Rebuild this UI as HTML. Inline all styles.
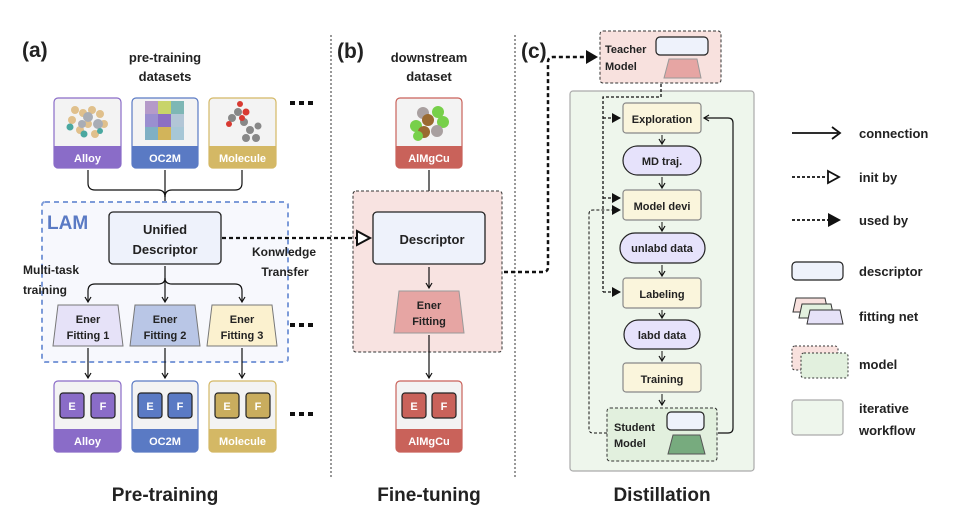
<!DOCTYPE html>
<html><head><meta charset="utf-8"><style>
html,body{margin:0;padding:0;background:#fff}
svg{display:block}
text{font-family:"Liberation Sans","DejaVu Sans",sans-serif;font-weight:bold;fill:#222}
</style></head><body>
<svg width="954" height="516" viewBox="0 0 954 516" xmlns="http://www.w3.org/2000/svg">
<defs>
<marker id="ah" markerWidth="8" markerHeight="8" refX="6" refY="4" orient="auto" markerUnits="userSpaceOnUse"><path d="M1,1 L6,4 L1,7" fill="none" stroke="#111" stroke-width="1.2"/></marker>
<marker id="fa" markerWidth="10" markerHeight="10" refX="8" refY="5" orient="auto" markerUnits="userSpaceOnUse"><path d="M0,0 L9,5 L0,10 Z" fill="#111"/></marker>
</defs>

<!-- separators -->
<line x1="331" y1="35" x2="331" y2="478" stroke="#333" stroke-width="1" stroke-dasharray="2,2"/>
<line x1="515" y1="35" x2="515" y2="478" stroke="#333" stroke-width="1" stroke-dasharray="2,2"/>

<!-- (a) -->
<text x="22" y="57" font-size="21">(a)</text>
<text x="165" y="62" font-size="13" text-anchor="middle">pre-training</text>
<text x="165" y="81" font-size="13" text-anchor="middle">datasets</text>

<!-- dataset cards -->
<g>
<rect x="54" y="98" width="67" height="70" rx="4" fill="#f3f3f3" stroke="#8a6cc8" stroke-width="1.2"/>
<path d="M54,146 H121 V164 a4,4 0 0 1 -4,4 H58 a4,4 0 0 1 -4,-4 Z" fill="#8a6cc8"/>
<text x="87.5" y="162" font-size="11" style="fill:#fff" text-anchor="middle">Alloy</text>
<g fill="#e0c08c"><circle cx="75" cy="110" r="4"/><circle cx="83" cy="113" r="4"/><circle cx="92" cy="110" r="4"/><circle cx="100" cy="114" r="4"/><circle cx="72" cy="120" r="4"/><circle cx="88" cy="124" r="4"/><circle cx="104" cy="124" r="4"/><circle cx="80" cy="130" r="4"/><circle cx="95" cy="134" r="4"/></g>
<g fill="#a9adb5"><circle cx="88" cy="117" r="5"/><circle cx="98" cy="124" r="5"/><circle cx="82" cy="124" r="4"/></g>
<g fill="#4aa8a0"><circle cx="70" cy="127" r="3.5"/><circle cx="84" cy="134" r="3.5"/><circle cx="100" cy="131" r="3"/></g>

<rect x="132" y="98" width="66" height="70" rx="4" fill="#f3f3f3" stroke="#5a7ac4" stroke-width="1.2"/>
<path d="M132,146 H198 V164 a4,4 0 0 1 -4,4 H136 a4,4 0 0 1 -4,-4 Z" fill="#5a7ac4"/>
<text x="165" y="162" font-size="11" style="fill:#fff" text-anchor="middle">OC2M</text>
<rect x="145" y="101" width="13" height="13" fill="#b59ac9"/><rect x="158" y="101" width="13" height="13" fill="#c8d46a"/><rect x="171" y="101" width="13" height="13" fill="#7eb7b5"/>
<rect x="145" y="114" width="13" height="13" fill="#9a8fd0"/><rect x="158" y="114" width="13" height="13" fill="#8c6fc4"/><rect x="171" y="114" width="13" height="13" fill="#b2c6d6"/>
<rect x="145" y="127" width="13" height="13" fill="#7fb0c4"/><rect x="158" y="127" width="13" height="13" fill="#d2b45a"/><rect x="171" y="127" width="13" height="13" fill="#a7c7d6"/>

<rect x="209" y="98" width="67" height="70" rx="4" fill="#f3f3f3" stroke="#d4b865" stroke-width="1.2"/>
<path d="M209,146 H276 V164 a4,4 0 0 1 -4,4 H213 a4,4 0 0 1 -4,-4 Z" fill="#d4b865"/>
<text x="242.5" y="162" font-size="11" style="fill:#fff" text-anchor="middle">Molecule</text>
<g fill="#888"><circle cx="238" cy="112" r="4"/><circle cx="232" cy="118" r="4"/><circle cx="244" cy="122" r="4"/><circle cx="250" cy="130" r="4"/><circle cx="258" cy="126" r="3.5"/><circle cx="246" cy="138" r="4"/><circle cx="256" cy="138" r="4"/></g>
<g fill="#d83a32"><circle cx="240" cy="104" r="3"/><circle cx="246" cy="112" r="3.5"/><circle cx="229" cy="124" r="3"/><circle cx="242" cy="118" r="3"/></g>
</g>
<g fill="#111"><rect x="290" y="101" width="5" height="4"/><rect x="299" y="101" width="5" height="4"/><rect x="308" y="101" width="5" height="4"/>
<rect x="290" y="323" width="5" height="4"/><rect x="299" y="323" width="5" height="4"/><rect x="308" y="323" width="5" height="4"/>
<rect x="290" y="412" width="5" height="4"/><rect x="299" y="412" width="5" height="4"/><rect x="308" y="412" width="5" height="4"/></g>

<!-- merge connectors -->
<path d="M88,170 V183 Q88,190 95,190 H158 Q165,190 165,197" fill="none" stroke="#111" stroke-width="1.2"/>
<path d="M242,170 V183 Q242,190 235,190 H172 Q165,190 165,197" fill="none" stroke="#111" stroke-width="1.2"/>
<line x1="165" y1="170" x2="165" y2="209" stroke="#111" stroke-width="1.2" marker-end="url(#ah)"/>

<!-- LAM box -->
<rect x="42" y="202" width="246" height="160" rx="3" fill="#f7f8fd" stroke="#7d9bd9" stroke-width="2" stroke-dasharray="5,4"/>
<text x="47" y="229" font-size="19" style="fill:#5a7ac4">LAM</text>
<rect x="109" y="212" width="112" height="52" rx="4" fill="#eef2fb" stroke="#222" stroke-width="1.3"/>
<text x="165" y="234" font-size="13" text-anchor="middle">Unified</text>
<text x="165" y="254" font-size="13" text-anchor="middle">Descriptor</text>
<text x="23" y="274" font-size="12">Multi-task</text>
<text x="23" y="294" font-size="12">training</text>
<text x="284" y="256" font-size="12" text-anchor="middle">Konwledge</text>
<text x="285" y="276" font-size="12" text-anchor="middle">Transfer</text>

<!-- branch -->
<line x1="165" y1="266" x2="165" y2="302" stroke="#111" stroke-width="1.2" marker-end="url(#ah)"/>
<path d="M165,278 Q165,284 158,284 H95 Q88,284 88,291 V302" fill="none" stroke="#111" stroke-width="1.2" marker-end="url(#ah)"/>
<path d="M165,278 Q165,284 172,284 H235 Q242,284 242,291 V302" fill="none" stroke="#111" stroke-width="1.2" marker-end="url(#ah)"/>

<!-- fittings -->
<path d="M58,305 H118 L123,346 H53 Z" fill="#e6e2f8" stroke="#777" stroke-width="1"/>
<text x="88" y="323" font-size="11" text-anchor="middle">Ener</text>
<text x="88" y="339" font-size="11" text-anchor="middle">Fitting 1</text>
<path d="M135,305 H195 L200,346 H130 Z" fill="#b9c6e6" stroke="#777" stroke-width="1"/>
<text x="165" y="323" font-size="11" text-anchor="middle">Ener</text>
<text x="165" y="339" font-size="11" text-anchor="middle">Fitting 2</text>
<path d="M212,305 H272 L277,346 H207 Z" fill="#fbf1cf" stroke="#777" stroke-width="1"/>
<text x="242" y="323" font-size="11" text-anchor="middle">Ener</text>
<text x="242" y="339" font-size="11" text-anchor="middle">Fitting 3</text>

<g stroke="#111" stroke-width="1.2" marker-end="url(#ah)">
<line x1="88" y1="348" x2="88" y2="378"/><line x1="165" y1="348" x2="165" y2="378"/><line x1="242" y1="348" x2="242" y2="378"/></g>

<!-- output cards -->
<g>
<rect x="54" y="381" width="67" height="71" rx="4" fill="#f3f3f3" stroke="#8a6cc8" stroke-width="1.2"/>
<path d="M54,429 H121 V448 a4,4 0 0 1 -4,4 H58 a4,4 0 0 1 -4,-4 Z" fill="#8a6cc8"/>
<text x="87.5" y="445" font-size="11" style="fill:#fff" text-anchor="middle">Alloy</text>
<rect x="60" y="393" width="24" height="25" rx="3" fill="#8a6cc8" stroke="#222" stroke-width="1.2"/>
<rect x="91" y="393" width="24" height="25" rx="3" fill="#8a6cc8" stroke="#222" stroke-width="1.2"/>
<text x="72" y="410" font-size="11" style="fill:#fff" text-anchor="middle">E</text><text x="103" y="410" font-size="11" style="fill:#fff" text-anchor="middle">F</text>

<rect x="132" y="381" width="66" height="71" rx="4" fill="#f3f3f3" stroke="#5a7ac4" stroke-width="1.2"/>
<path d="M132,429 H198 V448 a4,4 0 0 1 -4,4 H136 a4,4 0 0 1 -4,-4 Z" fill="#5a7ac4"/>
<text x="165" y="445" font-size="11" style="fill:#fff" text-anchor="middle">OC2M</text>
<rect x="138" y="393" width="24" height="25" rx="3" fill="#5a7ac4" stroke="#222" stroke-width="1.2"/>
<rect x="168" y="393" width="24" height="25" rx="3" fill="#5a7ac4" stroke="#222" stroke-width="1.2"/>
<text x="150" y="410" font-size="11" style="fill:#fff" text-anchor="middle">E</text><text x="180" y="410" font-size="11" style="fill:#fff" text-anchor="middle">F</text>

<rect x="209" y="381" width="67" height="71" rx="4" fill="#f3f3f3" stroke="#d4b865" stroke-width="1.2"/>
<path d="M209,429 H276 V448 a4,4 0 0 1 -4,4 H213 a4,4 0 0 1 -4,-4 Z" fill="#d4b865"/>
<text x="242.5" y="445" font-size="11" style="fill:#fff" text-anchor="middle">Molecule</text>
<rect x="215" y="393" width="24" height="25" rx="3" fill="#c9ad5e" stroke="#222" stroke-width="1.2"/>
<rect x="246" y="393" width="24" height="25" rx="3" fill="#c9ad5e" stroke="#222" stroke-width="1.2"/>
<text x="227" y="410" font-size="11" style="fill:#fff" text-anchor="middle">E</text><text x="258" y="410" font-size="11" style="fill:#fff" text-anchor="middle">F</text>
</g>
<text x="165" y="501" font-size="19" text-anchor="middle">Pre-training</text>

<!-- (b) -->
<text x="337" y="58" font-size="21">(b)</text>
<text x="429" y="62" font-size="13" text-anchor="middle">downstream</text>
<text x="429" y="81" font-size="13" text-anchor="middle">dataset</text>
<rect x="396" y="98" width="66" height="70" rx="4" fill="#f3f3f3" stroke="#c9625a" stroke-width="1.2"/>
<path d="M396,146 H462 V164 a4,4 0 0 1 -4,4 H400 a4,4 0 0 1 -4,-4 Z" fill="#c9625a"/>
<text x="429" y="162" font-size="11" style="fill:#fff" text-anchor="middle">AlMgCu</text>
<g><circle cx="423" cy="113" r="6" fill="#a9a0a0"/><circle cx="438" cy="112" r="6" fill="#77d04a"/><circle cx="443" cy="122" r="6" fill="#77d04a"/><circle cx="416" cy="126" r="6" fill="#77d04a"/><circle cx="437" cy="131" r="6" fill="#a9a0a0"/><circle cx="428" cy="120" r="6" fill="#9a6a30"/><circle cx="424" cy="132" r="6" fill="#9a6a30"/><circle cx="418" cy="136" r="5" fill="#77d04a"/></g>
<line x1="429" y1="170" x2="429" y2="209" stroke="#111" stroke-width="1.2" marker-end="url(#ah)"/>
<rect x="353" y="191" width="149" height="161" rx="3" fill="#f8e3e1" stroke="#333" stroke-width="1" stroke-dasharray="3,2"/>
<rect x="373" y="212" width="112" height="52" rx="4" fill="#eef2fb" stroke="#222" stroke-width="1.3"/>
<text x="432" y="244" font-size="13" text-anchor="middle">Descriptor</text>
<line x1="429" y1="267" x2="429" y2="288" stroke="#111" stroke-width="1.2" marker-end="url(#ah)"/>
<path d="M399,291 H459 L464,333 H394 Z" fill="#e6a5a3" stroke="#999" stroke-width="1"/>
<text x="429" y="309" font-size="11" text-anchor="middle">Ener</text>
<text x="429" y="325" font-size="11" text-anchor="middle">Fitting</text>
<line x1="429" y1="335" x2="429" y2="378" stroke="#111" stroke-width="1.2" marker-end="url(#ah)"/>
<rect x="396" y="381" width="66" height="71" rx="4" fill="#f3f3f3" stroke="#c9625a" stroke-width="1.2"/>
<path d="M396,429 H462 V448 a4,4 0 0 1 -4,4 H400 a4,4 0 0 1 -4,-4 Z" fill="#c9625a"/>
<text x="429" y="445" font-size="11" style="fill:#fff" text-anchor="middle">AlMgCu</text>
<rect x="402" y="393" width="24" height="25" rx="3" fill="#c9625a" stroke="#222" stroke-width="1.2"/>
<rect x="432" y="393" width="24" height="25" rx="3" fill="#c9625a" stroke="#222" stroke-width="1.2"/>
<text x="414" y="410" font-size="11" style="fill:#fff" text-anchor="middle">E</text><text x="444" y="410" font-size="11" style="fill:#fff" text-anchor="middle">F</text>
<text x="429" y="501" font-size="19" text-anchor="middle">Fine-tuning</text>

<!-- knowledge transfer dashed (on top) -->
<line x1="222" y1="238" x2="357" y2="238" stroke="#111" stroke-width="2.2" stroke-dasharray="4,3"/>
<path d="M357,231 L370,238 L357,245 Z" fill="#fff" stroke="#111" stroke-width="2"/>

<!-- used-by to teacher -->
<path d="M504,272 H543 Q548,272 548,267 V62 Q548,57 553,57 H588" fill="none" stroke="#111" stroke-width="2.5" stroke-dasharray="4,3"/>
<path d="M586,50 L598,57 L586,64 Z" fill="#111"/>

<!-- (c) -->
<text x="521" y="58" font-size="21">(c)</text>
<rect x="570" y="91" width="184" height="380" rx="3" fill="#eef6ec" stroke="#aaa" stroke-width="1.2"/>
<rect x="600" y="31" width="121" height="52" rx="3" fill="#f8e1de" stroke="#333" stroke-width="1" stroke-dasharray="3,2"/>
<text x="605" y="53" font-size="11">Teacher</text>
<text x="605" y="70" font-size="11">Model</text>
<rect x="656" y="37" width="52" height="18" rx="4" fill="#eef2fb" stroke="#222" stroke-width="1.2"/>
<path d="M669,59 H697 L701,78 H664 Z" fill="#e6a5a3" stroke="#999" stroke-width="1"/>

<!-- teacher dashed feed -->
<path d="M661,84 V97 H603 V292" fill="none" stroke="#111" stroke-width="1.3" stroke-dasharray="3,2"/>
<path d="M603,118 H620" fill="none" stroke="#111" stroke-width="1.3" stroke-dasharray="3,2" marker-end="url(#fa)"/>
<path d="M603,198 H620" fill="none" stroke="#111" stroke-width="1.3" stroke-dasharray="3,2" marker-end="url(#fa)"/>
<path d="M603,292 H620" fill="none" stroke="#111" stroke-width="1.3" stroke-dasharray="3,2" marker-end="url(#fa)"/>
<!-- student dashed feed -->
<path d="M607,433 H593 Q589,433 589,429 V214 Q589,210 593,210 H620" fill="none" stroke="#111" stroke-width="1" stroke-dasharray="3,2" marker-end="url(#fa)"/>
<!-- feedback solid -->
<path d="M718,433 H728 Q733,433 733,428 V123 Q733,118 728,118 H704" fill="none" stroke="#111" stroke-width="1.2" marker-end="url(#ah)"/>

<rect x="623" y="103" width="78" height="30" rx="3" fill="#faf5dc" stroke="#888" stroke-width="1.2"/>
<text x="662" y="123" font-size="11" text-anchor="middle">Exploration</text>
<rect x="623" y="146" width="78" height="29" rx="14.5" fill="#e6e2fb" stroke="#222" stroke-width="1.2"/>
<text x="662" y="165" font-size="11" text-anchor="middle">MD traj.</text>
<rect x="623" y="190" width="78" height="30" rx="3" fill="#faf5dc" stroke="#888" stroke-width="1.2"/>
<text x="662" y="210" font-size="11" text-anchor="middle">Model devi</text>
<rect x="620" y="233" width="85" height="30" rx="15" fill="#e6e2fb" stroke="#222" stroke-width="1.2"/>
<text x="662" y="252" font-size="11" text-anchor="middle">unlabd data</text>
<rect x="623" y="278" width="78" height="30" rx="3" fill="#faf5dc" stroke="#888" stroke-width="1.2"/>
<text x="662" y="298" font-size="11" text-anchor="middle">Labeling</text>
<rect x="624" y="320" width="76" height="29" rx="14.5" fill="#e6e2fb" stroke="#222" stroke-width="1.2"/>
<text x="662" y="339" font-size="11" text-anchor="middle">labd data</text>
<rect x="623" y="363" width="78" height="29" rx="3" fill="#faf5dc" stroke="#888" stroke-width="1.2"/>
<text x="662" y="383" font-size="11" text-anchor="middle">Training</text>
<g stroke="#111" stroke-width="1" marker-end="url(#ah)">
<line x1="662" y1="135" x2="662" y2="144"/><line x1="662" y1="177" x2="662" y2="188"/>
<line x1="662" y1="222" x2="662" y2="231"/><line x1="662" y1="265" x2="662" y2="276"/>
<line x1="662" y1="310" x2="662" y2="318"/><line x1="662" y1="351" x2="662" y2="361"/>
<line x1="662" y1="394" x2="662" y2="405"/></g>

<rect x="607" y="408" width="110" height="53" rx="3" fill="#e2f0de" stroke="#333" stroke-width="1" stroke-dasharray="3,2"/>
<text x="614" y="431" font-size="11">Student</text>
<text x="614" y="447" font-size="11">Model</text>
<rect x="667" y="412" width="37" height="18" rx="4" fill="#eef2fb" stroke="#222" stroke-width="1.2"/>
<path d="M673,435 H700 L705,454 H668 Z" fill="#77ab7e" stroke="#555" stroke-width="1"/>
<text x="662" y="501" font-size="19" text-anchor="middle">Distillation</text>

<!-- legend -->
<line x1="792" y1="133" x2="838" y2="133" stroke="#111" stroke-width="1.8"/>
<path d="M832,127 L840,133 L832,139" fill="none" stroke="#111" stroke-width="1.8"/>
<text x="859" y="138" font-size="13">connection</text>
<line x1="792" y1="177" x2="826" y2="177" stroke="#111" stroke-width="1.8" stroke-dasharray="3,2"/>
<path d="M828,171 L839,177 L828,183 Z" fill="#fff" stroke="#111" stroke-width="1.8"/>
<text x="859" y="182" font-size="13">init by</text>
<line x1="792" y1="220" x2="828" y2="220" stroke="#111" stroke-width="1.8" stroke-dasharray="3,2"/>
<path d="M828,213 L841,220 L828,227 Z" fill="#111"/>
<text x="859" y="225" font-size="13">used by</text>
<rect x="792" y="262" width="51" height="18" rx="4" fill="#eef2fb" stroke="#222" stroke-width="1.2"/>
<text x="859" y="276" font-size="13">descriptor</text>
<path d="M796,298 H825 L828,312 H793 Z" fill="#f8e1de" stroke="#333" stroke-width="1"/>
<path d="M802,304 H831 L834,318 H799 Z" fill="#e2f0de" stroke="#333" stroke-width="1"/>
<path d="M810,310 H840 L843,324 H807 Z" fill="#e6e2f8" stroke="#333" stroke-width="1"/>
<text x="859" y="321" font-size="13">fitting net</text>
<rect x="792" y="346" width="46" height="24" rx="3" fill="#f8e1de" stroke="#333" stroke-width="1" stroke-dasharray="2,2"/>
<rect x="801" y="353" width="47" height="25" rx="3" fill="#e2f0de" stroke="#333" stroke-width="1" stroke-dasharray="2,2"/>
<text x="859" y="369" font-size="13">model</text>
<rect x="792" y="400" width="51" height="35" rx="3" fill="#eef6ec" stroke="#aaa" stroke-width="1.2"/>
<text x="859" y="413" font-size="13">iterative</text>
<text x="859" y="435" font-size="13">workflow</text>
</svg>
</body></html>
